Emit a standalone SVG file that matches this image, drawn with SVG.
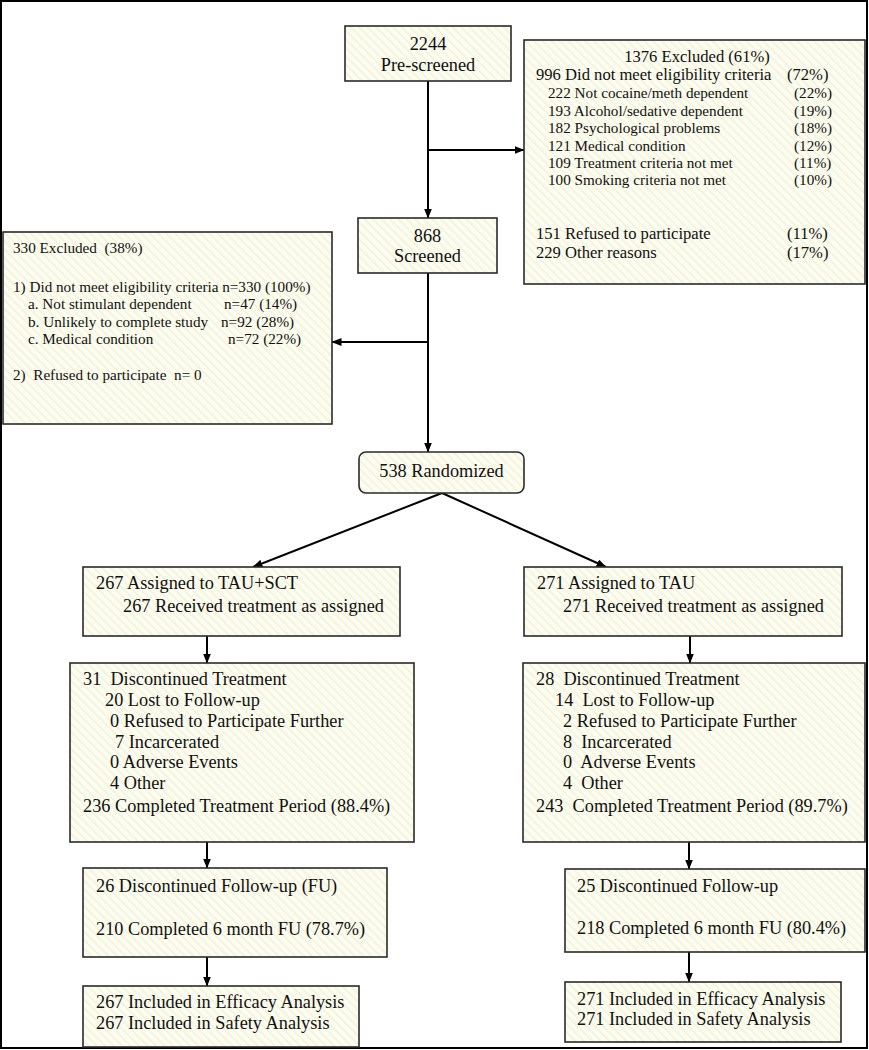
<svg xmlns="http://www.w3.org/2000/svg" width="869" height="1050" viewBox="0 0 869 1050">
<style>
.box{fill:url(#hatch);stroke:#2a2a2a;stroke-width:1.6}
.t{font-family:"Liberation Serif","Times New Roman",serif;fill:#111;font-size:18.3px}
.s{font-size:15.2px}
.h{font-size:16.6px}
.c{text-anchor:middle}
.ln{stroke:#000;stroke-width:2;fill:none}
.ar{stroke:#000;stroke-width:2;fill:none;marker-end:url(#ah)}
</style>
<defs>
<pattern id="hatch" width="6" height="6" patternUnits="userSpaceOnUse" patternTransform="rotate(-45)">
<rect width="6" height="6" fill="#fcfcef"/>
<rect width="1.4" height="6" fill="#f1f1dd"/>
</pattern>
<marker id="ah" markerWidth="10" markerHeight="8" refX="9.5" refY="4" orient="auto" markerUnits="userSpaceOnUse">
<path d="M0,0 L10,4 L0,8 Z" fill="#000"/>
</marker>
</defs>
<rect x="1" y="1" width="866" height="1047" fill="#fff" stroke="#000" stroke-width="2"/>

<g id="connectors">
<line class="ar" x1="428" y1="81" x2="428" y2="218"/>
<line class="ar" x1="428" y1="150" x2="524" y2="150"/>
<line class="ar" x1="428" y1="273" x2="428" y2="452"/>
<line class="ar" x1="428" y1="342" x2="332" y2="342"/>
<line class="ar" x1="442" y1="493" x2="253" y2="567"/>
<line class="ar" x1="442" y1="493" x2="606" y2="567"/>
<line class="ar" x1="207" y1="636" x2="207" y2="663"/>
<line class="ar" x1="690" y1="636" x2="690" y2="663"/>
<line class="ar" x1="207" y1="842" x2="207" y2="868"/>
<line class="ar" x1="689" y1="842" x2="689" y2="869"/>
<line class="ar" x1="207" y1="957" x2="207" y2="986"/>
<line class="ar" x1="689" y1="952" x2="689" y2="982"/>
</g>

<g id="prescreened">
<rect class="box" x="345" y="26" width="166" height="55"/>
<text class="t c" x="428" y="50">2244</text>
<text class="t c" x="428" y="71">Pre-screened</text>
</g>

<g id="excluded1">
<rect class="box" x="524" y="40" width="341" height="244"/>
<text class="t h c" x="697" y="62">1376 Excluded (61%)</text>
<text class="t h" x="536" y="80">996 Did not meet eligibility criteria</text>
<text class="t h" x="787" y="80">(72%)</text>
<text class="t s" x="548" y="98">222 Not cocaine/meth dependent</text>
<text class="t s" x="794" y="98">(22%)</text>
<text class="t s" x="548" y="116">193 Alcohol/sedative dependent</text>
<text class="t s" x="794" y="116">(19%)</text>
<text class="t s" x="548" y="133">182 Psychological problems</text>
<text class="t s" x="794" y="133">(18%)</text>
<text class="t s" x="548" y="151">121 Medical condition</text>
<text class="t s" x="794" y="151">(12%)</text>
<text class="t s" x="548" y="168">109 Treatment criteria not met</text>
<text class="t s" x="794" y="168">(11%)</text>
<text class="t s" x="548" y="185">100 Smoking criteria not met</text>
<text class="t s" x="794" y="185">(10%)</text>
<text class="t h" x="536" y="239">151 Refused to participate</text>
<text class="t h" x="787" y="239">(11%)</text>
<text class="t h" x="536" y="258">229 Other reasons</text>
<text class="t h" x="787" y="258">(17%)</text>
</g>

<g id="screened">
<rect class="box" x="358" y="218" width="139" height="55"/>
<text class="t c" x="427.5" y="242">868</text>
<text class="t c" x="427.5" y="262">Screened</text>
</g>

<g id="excluded2">
<rect class="box" x="3" y="232" width="329" height="192"/>
<text class="t s" x="13" y="253" xml:space="preserve">330 Excluded  (38%)</text>
<text class="t s" x="13" y="292">1) Did not meet eligibility criteria n=330 (100%)</text>
<text class="t s" x="28" y="309">a. Not stimulant dependent</text>
<text class="t s" x="224" y="309">n=47 (14%)</text>
<text class="t s" x="28" y="327">b. Unlikely to complete study</text>
<text class="t s" x="221" y="327">n=92 (28%)</text>
<text class="t s" x="28" y="344">c. Medical condition</text>
<text class="t s" x="228" y="344">n=72 (22%)</text>
<text class="t s" x="13" y="380" xml:space="preserve">2)  Refused to participate  n= 0</text>
</g>

<g id="randomized">
<rect class="box" x="359" y="452" width="165" height="41" rx="7"/>
<text class="t c" x="441.5" y="477">538 Randomized</text>
</g>

<g id="assignedSCT">
<rect class="box" x="83" y="567" width="317" height="69"/>
<text class="t" x="96" y="589">267 Assigned to TAU+SCT</text>
<text class="t" x="123" y="612">267 Received treatment as assigned</text>
</g>

<g id="assignedTAU">
<rect class="box" x="524" y="567" width="318" height="69"/>
<text class="t" x="537" y="589">271 Assigned to TAU</text>
<text class="t" x="563" y="612">271 Received treatment as assigned</text>
</g>

<g id="discSCT">
<rect class="box" x="70" y="663" width="344" height="179"/>
<text class="t" x="83" y="685" xml:space="preserve">31  Discontinued Treatment</text>
<text class="t" x="105" y="706">20 Lost to Follow-up</text>
<text class="t" x="110" y="727">0 Refused to Participate Further</text>
<text class="t" x="115" y="748">7 Incarcerated</text>
<text class="t" x="110" y="768">0 Adverse Events</text>
<text class="t" x="110" y="789">4 Other</text>
<text class="t" x="83" y="812">236 Completed Treatment Period (88.4%)</text>
</g>

<g id="discTAU">
<rect class="box" x="523" y="663" width="342" height="179"/>
<text class="t" x="536" y="685" xml:space="preserve">28  Discontinued Treatment</text>
<text class="t" x="555" y="706" xml:space="preserve">14  Lost to Follow-up</text>
<text class="t" x="563" y="727">2 Refused to Participate Further</text>
<text class="t" x="563" y="748" xml:space="preserve">8  Incarcerated</text>
<text class="t" x="563" y="768" xml:space="preserve">0  Adverse Events</text>
<text class="t" x="563" y="789" xml:space="preserve">4  Other</text>
<text class="t" x="536" y="812" xml:space="preserve">243  Completed Treatment Period (89.7%)</text>
</g>

<g id="fuSCT">
<rect class="box" x="83" y="868" width="304" height="89"/>
<text class="t" x="96" y="892">26 Discontinued Follow-up (FU)</text>
<text class="t" x="96" y="935">210 Completed 6 month FU (78.7%)</text>
</g>

<g id="fuTAU">
<rect class="box" x="565" y="869" width="300" height="83"/>
<text class="t" x="577" y="892">25 Discontinued Follow-up</text>
<text class="t" x="577" y="934">218 Completed 6 month FU (80.4%)</text>
</g>

<g id="analysisSCT">
<rect class="box" x="83" y="986" width="276" height="61"/>
<text class="t" x="96" y="1008">267 Included in Efficacy Analysis</text>
<text class="t" x="96" y="1029">267 Included in Safety Analysis</text>
</g>

<g id="analysisTAU">
<rect class="box" x="565" y="982" width="276" height="60"/>
<text class="t" x="577" y="1005">271 Included in Efficacy Analysis</text>
<text class="t" x="577" y="1025">271 Included in Safety Analysis</text>
</g>
</svg>
